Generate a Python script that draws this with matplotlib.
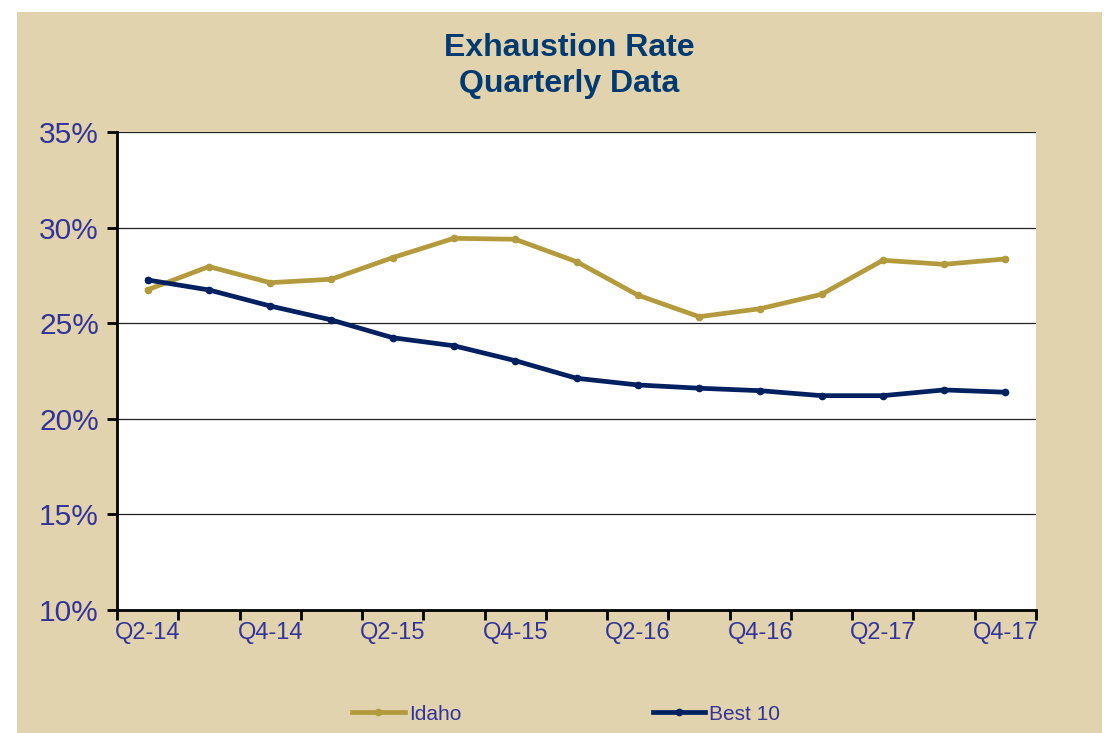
import numpy as np
import matplotlib
matplotlib.use("Agg")
import matplotlib.pyplot as plt
from matplotlib.patches import Rectangle
from matplotlib.ticker import FixedLocator, FuncFormatter

# -*- data -*-
quarters = ["Q2-14", "Q3-14", "Q4-14", "Q1-15", "Q2-15", "Q3-15", "Q4-15", "Q1-16",
            "Q2-16", "Q3-16", "Q4-16", "Q1-17", "Q2-17", "Q3-17", "Q4-17"]
idaho = [26.75, 27.96, 27.12, 27.30, 28.43, 29.44, 29.39, 28.22,
         26.47, 25.34, 25.76, 26.51, 28.29, 28.08, 28.36]
best10 = [27.26, 26.74, 25.90, 25.17, 24.24, 23.82, 23.04, 22.12,
          21.77, 21.60, 21.47, 21.21, 21.21, 21.51, 21.39]

# -*- style -*-
plt.rcParams['font.family'] = ['Liberation Sans', 'DejaVu Sans']
tan = '#E1D3AE'
gold = '#B39A3C'
navy = '#00205F'
label_col = '#333399'
title_col = '#003A70'

fig = plt.figure(figsize=(11.08, 7.33), dpi=100, facecolor='white')
W, H = 1108, 733
# tan chart area (white margin on left/top like the source)
fig.patches.append(Rectangle((17 / W, 0), (1102 - 17) / W, 1 - 12 / H,
                             transform=fig.transFigure, facecolor=tan,
                             edgecolor='none', zorder=-10))

ax = fig.add_axes([117 / W, 1 - 610 / H, (1036 - 117) / W, (610 - 132) / H])
ax.set_facecolor('white')

x = np.arange(len(quarters))
ax.plot(x, np.array(idaho) / 100, color=gold, lw=3.4, marker='o', ms=4.5,
        label='Idaho', zorder=3, solid_joinstyle='round')
ax.plot(x, np.array(best10) / 100, color=navy, lw=3.4, marker='o', ms=4.5,
        label='Best 10', zorder=3, solid_joinstyle='round')

ax.set_xlim(-0.5, len(quarters) - 0.5)
ax.set_ylim(0.10, 0.35)

# y axis
yt = np.arange(0.10, 0.351, 0.05)
ax.yaxis.set_major_locator(FixedLocator(yt))
ax.yaxis.set_major_formatter(FuncFormatter(lambda v, p: f"{v * 100:.0f}%"))
for v in yt[1:]:
    ax.axhline(v, color='#222222', lw=0.9, zorder=1)

# x axis: ticks on category boundaries, labels every other category
ax.xaxis.set_major_locator(FixedLocator(np.arange(-0.5, len(quarters), 1.0)))
ax.xaxis.set_major_formatter(FuncFormatter(lambda v, p: ""))
ax.xaxis.set_minor_locator(FixedLocator(x[::2]))
ax.set_xticklabels(quarters[::2], minor=True)

ax.tick_params(axis='y', which='major', direction='out', length=7, width=2,
               labelsize=21.5, labelcolor=label_col, pad=6)
ax.tick_params(axis='x', which='major', direction='out', length=7, width=2)
ax.tick_params(axis='x', which='minor', length=0, labelsize=17,
               labelcolor=label_col, pad=9)

for s in ['top', 'right']:
    ax.spines[s].set_visible(False)
for s in ['left', 'bottom']:
    ax.spines[s].set_linewidth(2)
    ax.spines[s].set_color('black')
    ax.spines[s].set_zorder(4)

# title
fig.text(0.514, 1 - 66 / H, "Exhaustion Rate\nQuarterly Data", ha='center',
         va='center', fontsize=23, fontweight='bold', color=title_col,
         linespacing=1.22)

# legend
leg = fig.legend(loc='center', bbox_to_anchor=(0.511, 1 - 714 / H), ncol=2,
                 frameon=False, fontsize=15, handlelength=2.5,
                 handletextpad=0.2, columnspacing=9.2)
for t in leg.get_texts():
    t.set_color(label_col)

fig.savefig("out.png", dpi=100, facecolor='white')
